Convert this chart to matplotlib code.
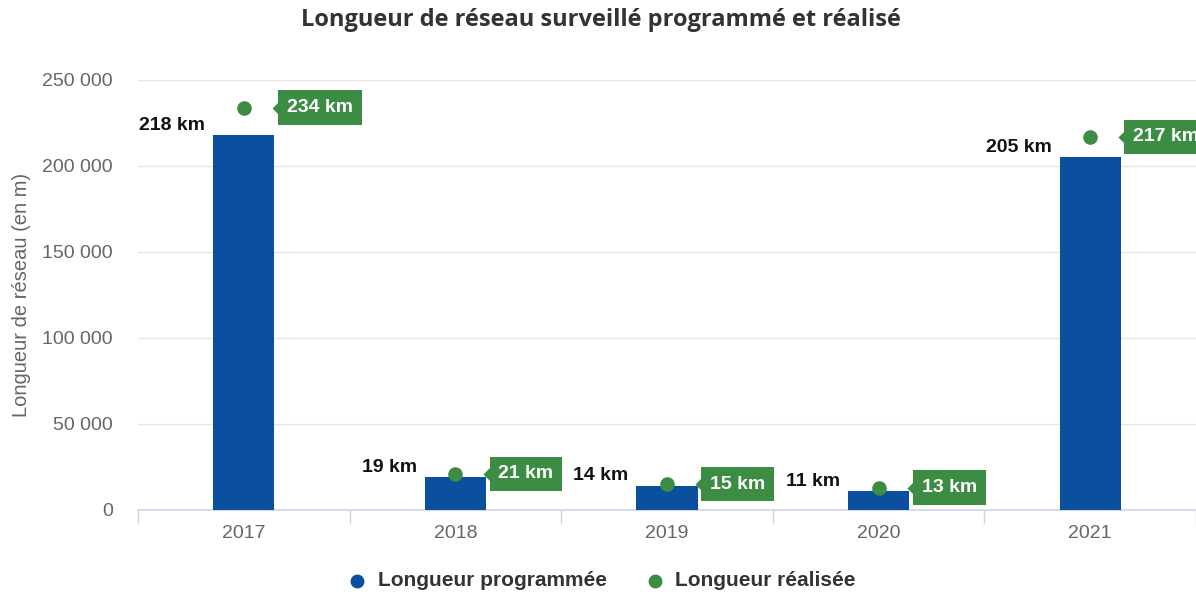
import numpy as np
import matplotlib.pyplot as plt
import matplotlib.transforms as mtransforms
from matplotlib.ticker import FuncFormatter, FixedLocator

plt.rcParams['font.family'] = ['Liberation Sans', 'DejaVu Sans']

annees = ['2017', '2018', '2019', '2020', '2021']
programme = [218000, 19000, 14000, 11000, 205000]
realise = [234000, 21000, 15000, 13000, 217000]
label_prog = ['218 km', '19 km', '14 km', '11 km', '205 km']
label_real = ['234 km', '21 km', '15 km', '13 km', '217 km']

bleu = '#0b4f9f'
vert = '#3c8c44'

fig = plt.figure(figsize=(11.96, 5.95), dpi=100)
ax = fig.add_axes([138 / 1196, 1 - 510 / 595, 1 - 138 / 1196, 430 / 595])

x = np.arange(len(annees))
ax.bar(x, programme, width=0.29, color=bleu, zorder=3)
ax.scatter(x, realise, s=110, color=vert, zorder=4, linewidths=0)

pointe = [(0, 0), (1, 1), (1, -1), (0, 0)]  # small pointer of the callout

for i in range(len(annees)):
    # label of the bar, left of its top
    ax.annotate(label_prog[i], xy=(x[i] - 0.145, programme[i]), xytext=(-8, 10),
                textcoords='offset pixels', ha='right', va='center',
                fontsize=14, fontweight='bold', color='#111111', zorder=5)
    # green callout on the right of the dot
    ax.annotate(label_real[i], xy=(x[i], realise[i]), xytext=(43, 0),
                textcoords='offset pixels', ha='left', va='center',
                fontsize=14, fontweight='bold', color='white', zorder=6,
                bbox=dict(boxstyle='square,pad=0.45', fc=vert, ec='none'),
                annotation_clip=False)
    tr = mtransforms.offset_copy(ax.transData, fig=fig, x=28, y=0, units='dots')
    ax.plot([x[i]], [realise[i]], marker=pointe, markersize=12, color=vert,
            transform=tr, clip_on=False, zorder=6, markeredgewidth=0)

ax.set_xlim(-0.5, 4.5)
ax.set_ylim(0, 250000)
ax.set_yticks(np.arange(0, 250001, 50000))
ax.yaxis.set_major_formatter(FuncFormatter(lambda v, p: f'{int(v):,}'.replace(',', ' ')))
ax.grid(axis='y', color='#e6e6e6', linewidth=1, zorder=0)
ax.set_axisbelow(True)

ax.set_xticks(x)
ax.set_xticklabels(annees)
ax.xaxis.set_minor_locator(FixedLocator(np.arange(-0.5, 4.6, 1)))
ax.tick_params(axis='x', which='major', length=0, pad=11, labelsize=14, labelcolor='#666666')
ax.tick_params(axis='x', which='minor', length=10, color='#ccd6eb', width=1)
ax.tick_params(axis='y', length=0, pad=18, labelsize=14, labelcolor='#666666')

for s in ['top', 'right', 'left']:
    ax.spines[s].set_visible(False)
ax.spines['bottom'].set_color('#ccd6eb')
ax.spines['bottom'].set_linewidth(1.2)

ax.set_ylabel('Longueur de réseau (en m)', fontsize=14.5, color='#666666', labelpad=8)

fig.text(601 / 1196, 1 - 20 / 595, 'Longueur de réseau surveillé programmé et réalisé',
         ha='center', va='center', fontsize=17, fontweight='bold', color='#333333',
         family=['Open Sans', 'DejaVu Sans'])

# legend
fig.lines.append(plt.Line2D([357 / 1196], [1 - 581 / 595], marker='o', markersize=9,
                            color=bleu, linestyle='none', transform=fig.transFigure))
fig.text(378 / 1196, 1 - 581 / 595, 'Longueur programmée', ha='left', va='center',
         fontsize=15, fontweight='bold', color='#333333')
fig.lines.append(plt.Line2D([655 / 1196], [1 - 581 / 595], marker='o', markersize=9,
                            color=vert, linestyle='none', transform=fig.transFigure))
fig.text(675 / 1196, 1 - 581 / 595, 'Longueur réalisée', ha='left', va='center',
         fontsize=15, fontweight='bold', color='#333333')

fig.savefig('out.png', dpi=100)
